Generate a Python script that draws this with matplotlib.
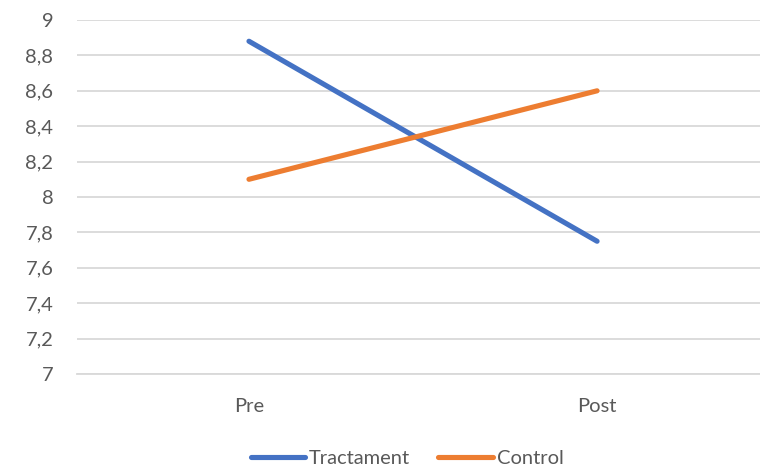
import matplotlib.pyplot as plt
from matplotlib.ticker import MultipleLocator, FuncFormatter

# pre/post means for the two groups
stages = ['Pre', 'Post']
tractament = [8.88, 7.75]
control = [8.10, 8.60]

plt.rcParams['font.family'] = ['Lato', 'DejaVu Sans']
text_col = '#595959'
grid_col = '#d9d9d9'
fs = 14.5

fig = plt.figure(figsize=(7.6, 4.7), dpi=100)
ax = fig.add_axes([77 / 760, 1 - 374 / 470, 1 - 77 / 760, (374 - 20) / 470])

x = range(len(stages))
ax.plot(x, tractament, color='#4472c4', lw=3.7, solid_capstyle='round', label='Tractament')
ax.plot(x, control, color='#ed7d31', lw=3.7, solid_capstyle='round', label='Control')

ax.set_ylim(7, 9)
ax.set_xlim(-0.494, 1.468)
ax.yaxis.set_major_locator(MultipleLocator(0.2))
ax.yaxis.set_major_formatter(FuncFormatter(lambda v, p: f'{v:g}'.replace('.', ',')))
ax.set_xticks(list(x))
ax.set_xticklabels(stages)
ax.grid(axis='y', color=grid_col, lw=1.3)
ax.set_axisbelow(True)
for side in ['top', 'right', 'left']:
    ax.spines[side].set_visible(False)
ax.spines['bottom'].set_color(grid_col)
ax.spines['bottom'].set_linewidth(1.3)
ax.tick_params(axis='y', length=0, pad=17, labelsize=fs, labelcolor=text_col)
ax.tick_params(axis='x', length=0, pad=17, labelsize=fs, labelcolor=text_col)

leg = fig.legend(loc='center', bbox_to_anchor=(407 / 760, 1 - 458 / 470), ncol=2, frameon=False,
                 fontsize=fs, handlelength=2.7, handletextpad=0.2, columnspacing=1.4)
for t in leg.get_texts():
    t.set_color(text_col)

fig.savefig('out.png', dpi=100)
